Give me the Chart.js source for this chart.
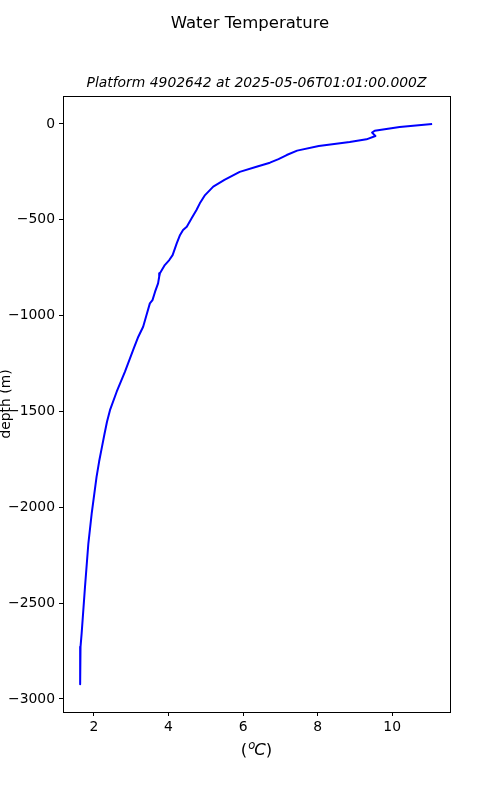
<!DOCTYPE html>
<html>
<head>
<meta charset="utf-8">
<script src="https://cdn.jsdelivr.net/npm/chart.js@4/dist/chart.umd.min.js"></script>
<style>
  html, body { margin: 0; padding: 0; background: #fff; }
  #wrap { position: relative; width: 500px; height: 800px; }
</style>
</head>
<body>
<div id="wrap"><canvas id="profileChart"></canvas></div>
<script>
// Profile data (temperature in degC, depth in m)
const temperature = [11.07, 10.2, 9.53, 9.46, 9.55, 9.31, 8.86, 8.03, 7.45, 7.17, 6.95, 6.72, 6.36, 5.91,
  5.50, 5.20, 4.98, 4.84, 4.75, 4.62, 4.49, 4.39, 4.31, 4.22, 4.11, 4.02, 3.90, 3.77, 3.75,
  3.72, 3.64, 3.57, 3.50, 3.41, 3.32, 3.19, 3.06, 2.83, 2.61, 2.43, 2.35, 2.28, 2.21, 2.14, 2.07, 1.94,
  1.85, 1.76, 1.67, 1.64, 1.63];
const depth = [0, -16, -35, -45, -63, -80, -94, -115, -139, -162, -183, -202, -223, -250,
  -292, -327, -371, -414, -449, -492, -536, -553, -579, -623, -684, -710, -736, -779, -797,
  -832, -875, -919, -936, -997, -1058, -1110, -1175, -1293, -1397, -1493, -1554, -1620, -1690, -1760, -1841, -2032,
  -2189, -2415, -2658, -2728, -2923];

const xTicks = [2, 4, 6, 8, 10];
const yTicks = [0, -500, -1000, -1500, -2000, -2500, -3000];

const chartTitle = 'Water Temperature';
const subTitle = 'Platform 4902642 at 2025-05-06T01:01:00.000Z';
const yLabel = 'depth (m)';

const FONT = '"DejaVu Sans", sans-serif';

const points = temperature.map((t, i) => ({ x: t, y: depth[i] }));

// Frame + titles drawn like matplotlib does
const decorations = {
  id: 'decorations',
  afterDraw(chart) {
    const ctx = chart.ctx;
    const a = chart.chartArea;
    ctx.save();
    ctx.strokeStyle = '#000';
    ctx.lineWidth = 1;
    ctx.strokeRect(Math.round(a.left) + 0.5, Math.round(a.top) + 0.5,
      Math.round(a.right - a.left), Math.round(a.bottom - a.top));

    ctx.fillStyle = '#000';
    ctx.textAlign = 'center';
    ctx.textBaseline = 'middle';
    ctx.font = '16.5px ' + FONT;
    ctx.fillText(chartTitle, 250, 24);

    ctx.font = 'italic 13.9px ' + FONT;
    ctx.fillText(subTitle, (a.left + a.right) / 2, 83);

    // x label: (^oC) in mathtext style
    const cx = (a.left + a.right) / 2;
    const cy = 751;
    ctx.font = '16.5px ' + FONT;
    const wParL = ctx.measureText('(').width;
    const wParR = ctx.measureText(')').width;
    ctx.font = 'italic 16.5px ' + FONT;
    const wC = ctx.measureText('C').width;
    ctx.font = 'italic 11.5px ' + FONT;
    const wO = ctx.measureText('o').width;
    let x = cx - (wParL + wO + wC + wParR) / 2;
    ctx.textAlign = 'left';
    ctx.font = '16.5px ' + FONT;
    ctx.fillText('(', x, cy); x += wParL;
    ctx.font = 'italic 11.5px ' + FONT;
    ctx.fillText('o', x + 1, cy - 5); x += wO;
    ctx.font = 'italic 16.5px ' + FONT;
    ctx.fillText('C', x, cy); x += wC;
    ctx.font = '16.5px ' + FONT;
    ctx.fillText(')', x, cy);

    // y label
    ctx.translate(6, (a.top + a.bottom) / 2);
    ctx.rotate(-Math.PI / 2);
    ctx.textAlign = 'center';
    ctx.font = '13.9px ' + FONT;
    ctx.fillText(yLabel, 0, 0);
    ctx.restore();
  }
};

const ctx = document.getElementById('profileChart').getContext('2d');
const profileChart = new Chart(ctx, {
  type: 'scatter',
  data: {
    datasets: [{
      label: 'temperature',
      data: points,
      showLine: true,
      borderColor: '#0000ff',
      backgroundColor: '#0000ff',
      borderWidth: 2,
      borderJoinStyle: 'round',
      pointRadius: 0,
      tension: 0
    }]
  },
  options: {
    responsive: true,
    maintainAspectRatio: false,
    animation: false,
    layout: { padding: { left: 0, top: 96, right: 50, bottom: 48 } },
    plugins: {
      legend: { display: false },
      tooltip: { enabled: false }
    },
    scales: {
      x: {
        type: 'linear',
        min: 1.17,
        max: 11.55,
        afterFit(scale) { scale.height = 40; },
        afterBuildTicks(scale) { scale.ticks = xTicks.map(v => ({ value: v })); },
        border: { display: false },
        grid: { drawOnChartArea: false, drawTicks: true, tickLength: 4, color: '#000', tickColor: '#000' },
        ticks: {
          color: '#000',
          padding: 3,
          font: { family: FONT, size: 13.9 },
          callback: v => String(v)
        }
      },
      y: {
        type: 'linear',
        min: -3068,
        max: 146,
        afterFit(scale) { scale.width = 63; },
        afterBuildTicks(scale) { scale.ticks = yTicks.map(v => ({ value: v })); },
        border: { display: false },
        grid: { drawOnChartArea: false, drawTicks: true, tickLength: 4, color: '#000', tickColor: '#000' },
        ticks: {
          color: '#000',
          padding: 4,
          font: { family: FONT, size: 13.9 },
          callback: v => (v < 0 ? '\u2212' + Math.abs(v) : String(v))
        }
      }
    }
  },
  plugins: [decorations]
});
</script>
</body>
</html>
